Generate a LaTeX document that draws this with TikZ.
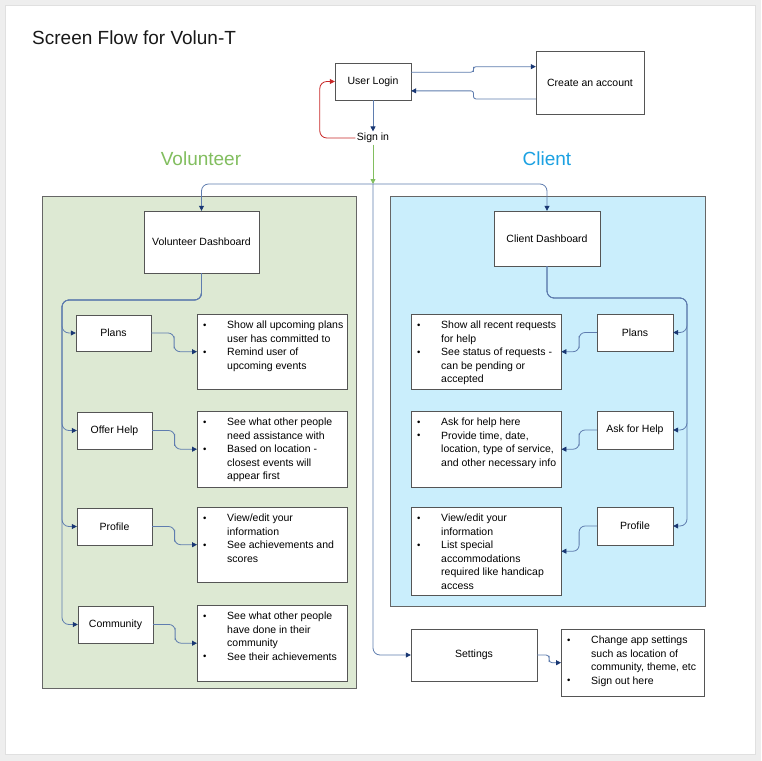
\documentclass[tikz,border=0pt]{standalone}
\usepackage{fontspec}
\setmainfont{Liberation Sans}
\usetikzlibrary{arrows.meta, positioning, calc, shadows}

\definecolor{pagegray}{RGB}{238,238,238}
\definecolor{boxborder}{RGB}{85,85,85}
\definecolor{linkblue}{RGB}{95,125,175}
\definecolor{tipblue}{RGB}{25,55,115}
\definecolor{volgreen}{RGB}{130,190,95}
\definecolor{volfill}{RGB}{221,233,211}
\definecolor{cliblue}{RGB}{27,161,226}
\definecolor{clifill}{RGB}{202,238,252}
\definecolor{backred}{RGB}{200,40,40}

\newcommand{\bodyfont}{\fontsize{10.5}{13.5}\selectfont}
\newcommand{\bitem}{\par\noindent\llap{\makebox[24pt][l]{\raisebox{0.6pt}{\fontsize{9.5}{9.5}\selectfont\textbullet}}}}
\newcommand{\infolist}[3]{\parbox[c][#2][t]{#1}{\vspace*{7pt}\raggedright\leftskip=30pt\rightskip=0pt plus 1fil\parindent=0pt #3}}

\tikzstyle{screen_box} = [rectangle, draw=boxborder, fill=white, text centered, font=\bodyfont, drop shadow={shadow xshift=1pt, shadow yshift=-1pt, opacity=0.3}]
\tikzstyle{info_box} = [rectangle, draw=boxborder, fill=white, inner sep=0pt, anchor=north west, font=\bodyfont, drop shadow={shadow xshift=1pt, shadow yshift=-1pt, opacity=0.3}]
\tikzstyle{group_panel} = [rectangle, draw=black!60, line width=0.8pt]
\tikzstyle{group_label} = [font=\fontsize{19}{22}\selectfont]
\tikzstyle{flow_arrow} = [draw=linkblue, line width=0.8pt, rounded corners=7pt, -{Triangle[length=5pt, width=5pt, color=tipblue]}]
\tikzstyle{back_arrow} = [flow_arrow, draw=backred, -{Triangle[length=5pt, width=5pt, color=backred]}]
\tikzstyle{go_arrow} = [flow_arrow, draw=volgreen, -{Triangle[length=5pt, width=5pt, color=volgreen]}]

\begin{document}
\begin{tikzpicture}[x=1pt, y=-1pt]
\useasboundingbox (0,0) rectangle (761,761);
\fill[pagegray] (0,0) rectangle (761,761);
\filldraw[fill=white, draw=black!12] (5,5) rectangle (755,754);

\node (title) [anchor=west, inner sep=0pt, font=\fontsize{19}{22}\selectfont, text=black!90] at (32,38) {Screen Flow for Volun-T};

% Anmeldung
\node (login) [screen_box, minimum width=76pt, minimum height=37pt] at (373,81.5) {User Login};
\node (account) [screen_box, minimum width=108pt, minimum height=63pt] at (590,82.5) {Create an account};
\node (signin) [font=\bodyfont, inner sep=1.5pt] at (373,138) {Sign in};

% Bereiche
\node (vol_panel) [group_panel, fill=volfill, minimum width=314pt, minimum height=492pt] at (199,442) {};
\node (cli_panel) [group_panel, fill=clifill, minimum width=315pt, minimum height=410pt] at (547.5,401) {};
\node (vol_label) [group_label, text=volgreen] at (201,159) {Volunteer};
\node (cli_label) [group_label, text=cliblue] at (547,159) {Client};

\node (vol_dash) [screen_box, minimum width=115pt, minimum height=62pt] at (201.5,242) {Volunteer Dashboard};
\node (cli_dash) [screen_box, minimum width=106pt, minimum height=55pt] at (547,238.5) {Client Dashboard};

% Volunteer-Seiten
\node (vol_plans) [screen_box, minimum width=75pt, minimum height=36pt] at (113.5,333) {Plans};
\node (vol_offer) [screen_box, minimum width=75pt, minimum height=37pt] at (114.5,430.5) {Offer Help};
\node (vol_profile) [screen_box, minimum width=75pt, minimum height=37pt] at (114.5,526.5) {Profile};
\node (vol_comm) [screen_box, minimum width=75pt, minimum height=37pt] at (115.5,624.5) {Community};

\node (vol_plans_info) [info_box] at (197,314) {\infolist{150pt}{75pt}{\bitem Show all upcoming plans\\ user has committed to \bitem Remind user of\\ upcoming events}};
\node (vol_offer_info) [info_box] at (197,411) {\infolist{150pt}{76pt}{\bitem See what other people\\ need assistance with \bitem Based on location -\\ closest events will\\ appear first}};
\node (vol_profile_info) [info_box] at (197,507) {\infolist{150pt}{75pt}{\bitem View/edit your\\ information \bitem See achievements and\\ scores}};
\node (vol_comm_info) [info_box] at (197,605) {\infolist{150pt}{76pt}{\bitem See what other people\\ have done in their\\ community \bitem See their achievements}};

% Client-Seiten
\node (cli_plans) [screen_box, minimum width=76pt, minimum height=37pt] at (635,332.5) {Plans};
\node (cli_ask) [screen_box, minimum width=76pt, minimum height=38pt] at (635,430) {Ask for Help};
\node (cli_profile) [screen_box, minimum width=76pt, minimum height=38pt] at (635,526) {Profile};

\node (cli_plans_info) [info_box] at (411,314) {\infolist{150pt}{75pt}{\bitem Show all recent requests\\ for help \bitem See status of requests -\\ can be pending or\\ accepted}};
\node (cli_ask_info) [info_box] at (411,411) {\infolist{150pt}{76pt}{\bitem Ask for help here \bitem Provide time, date,\\ location, type of service,\\ and other necessary info}};
\node (cli_profile_info) [info_box] at (411,507) {\infolist{150pt}{88pt}{\bitem View/edit your\\ information \bitem List special\\ accommodations\\ required like handicap\\ access}};

% Einstellungen
\node (settings) [screen_box, minimum width=126pt, minimum height=52pt] at (474,655) {Settings};
\node (settings_info) [info_box] at (561,629) {\infolist{143pt}{67pt}{\bitem Change app settings\\ such as location of\\ community, theme, etc \bitem Sign out here}};

\coordinate (split) at (373,184);
\coordinate (vol_trunk) at (62,300);
\coordinate (cli_trunk) at (687,298);
\coordinate (login_out) at ($(login.north east)!0.25!(login.south east)$);
\coordinate (login_in) at ($(login.north east)!0.75!(login.south east)$);
\coordinate (account_in) at ($(account.north west)!0.25!(account.south west)$);
\coordinate (account_out) at ($(account.north west)!0.76!(account.south west)$);

\draw [flow_arrow, rounded corners=2.5pt] (login_out) -| ($(login_out)!0.5!(account_in)$) |- (account_in);
\draw [flow_arrow, rounded corners=2.5pt] (account_out) -| ($(account_out)!0.5!(login_in)$) |- (login_in);
\draw [flow_arrow] (login.south) -- (signin.north);
\draw [back_arrow] (signin.west) -| ($(login.west)+(-15,0)$) -- (login.west);
\draw [go_arrow] (signin.south) -- (split);

\draw [flow_arrow] (split) -| (vol_dash.north);
\draw [flow_arrow] (split) -| (cli_dash.north);
\draw [flow_arrow] (split) |- (settings.west);

\draw [flow_arrow] (vol_dash.south) |- (vol_trunk) |- (vol_plans.west);
\draw [flow_arrow] (vol_dash.south) |- (vol_trunk) |- (vol_offer.west);
\draw [flow_arrow] (vol_dash.south) |- (vol_trunk) |- (vol_profile.west);
\draw [flow_arrow] (vol_dash.south) |- (vol_trunk) |- (vol_comm.west);

\draw [flow_arrow] (cli_dash.south) |- (cli_trunk) |- (cli_plans.east);
\draw [flow_arrow] (cli_dash.south) |- (cli_trunk) |- (cli_ask.east);
\draw [flow_arrow] (cli_dash.south) |- (cli_trunk) |- (cli_profile.east);

\draw [flow_arrow, rounded corners=6pt] (vol_plans.east) -| ($(vol_plans.east)!0.5!(vol_plans_info.west)$) |- (vol_plans_info.west);
\draw [flow_arrow, rounded corners=6pt] (vol_offer.east) -| ($(vol_offer.east)!0.5!(vol_offer_info.west)$) |- (vol_offer_info.west);
\draw [flow_arrow, rounded corners=6pt] (vol_profile.east) -| ($(vol_profile.east)!0.5!(vol_profile_info.west)$) |- (vol_profile_info.west);
\draw [flow_arrow, rounded corners=6pt] (vol_comm.east) -| ($(vol_comm.east)!0.5!(vol_comm_info.west)$) |- (vol_comm_info.west);

\draw [flow_arrow, rounded corners=6pt] (cli_plans.west) -| ($(cli_plans.west)!0.5!(cli_plans_info.east)$) |- (cli_plans_info.east);
\draw [flow_arrow, rounded corners=6pt] (cli_ask.west) -| ($(cli_ask.west)!0.5!(cli_ask_info.east)$) |- (cli_ask_info.east);
\draw [flow_arrow, rounded corners=6pt] (cli_profile.west) -| ($(cli_profile.west)!0.5!(cli_profile_info.east)$) |- (cli_profile_info.east);

\draw [flow_arrow, rounded corners=3pt] (settings.east) -| ($(settings.east)!0.5!(settings_info.west)$) |- (settings_info.west);
\end{tikzpicture}
\end{document}
